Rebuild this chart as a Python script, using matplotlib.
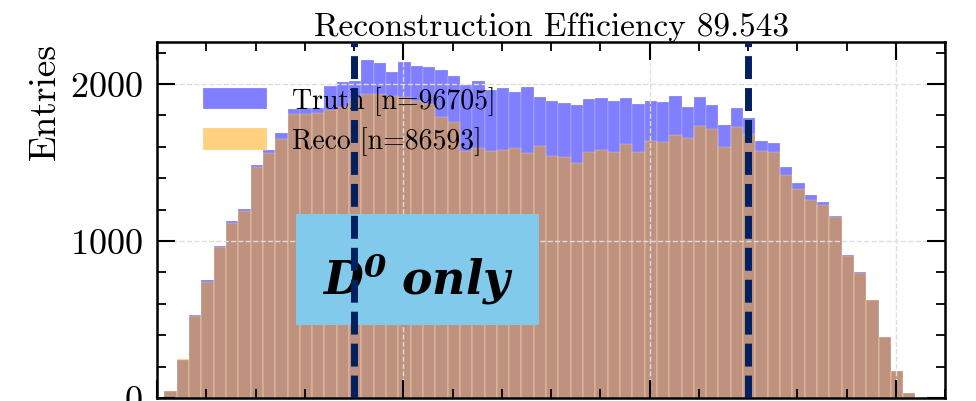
import numpy as np
import matplotlib
matplotlib.use("Agg")
import matplotlib.pyplot as plt
from matplotlib.patches import Rectangle
from matplotlib.ticker import MultipleLocator

# Histogram binning (61 bins of width 0.025)
bin_lo = 0.015
bin_width = 0.025

truth_counts = [
    44, 245, 528, 750, 971, 1127, 1203, 1484, 1582, 1690,
    1841, 1847, 1850, 1990, 2015, 2022, 2153, 2134, 2078, 2142,
    2116, 2110, 2089, 2049, 1993, 2022, 1961, 1975, 1947, 1979,
    1915, 1894, 1882, 1866, 1904, 1909, 1892, 1909, 1873, 1892,
    1883, 1925, 1852, 1915, 1868, 1741, 1848, 1782, 1635, 1622,
    1469, 1369, 1293, 1246, 1157, 911, 800, 626, 386, 170,
    30,
]
reco_counts = [
    44, 250, 521, 742, 963, 1117, 1191, 1471, 1558, 1651,
    1809, 1812, 1817, 1832, 1852, 1902, 1936, 1936, 1922, 1915,
    1892, 1873, 1791, 1756, 1575, 1590, 1571, 1582, 1590, 1559,
    1607, 1540, 1535, 1500, 1565, 1577, 1569, 1615, 1565, 1637,
    1630, 1676, 1657, 1736, 1716, 1598, 1725, 1682, 1573, 1570,
    1420, 1333, 1263, 1232, 1151, 907, 796, 622, 386, 170,
    30,
]
n_truth = 96705
n_reco = 86593
cut_lo, cut_hi = 0.4, 1.2
box_label = r"$\mathbfit{D^0\ only}$"

edges = bin_lo + bin_width * np.arange(len(truth_counts) + 1)
centers = 0.5 * (edges[:-1] + edges[1:])

plt.rcParams.update({
    "font.family": "serif",
    "font.serif": ["cmr10", "DejaVu Serif"],
    "mathtext.fontset": "cm",
    "axes.formatter.use_mathtext": True,
    "axes.unicode_minus": False,
    "axes.linewidth": 1.8,
    "xtick.direction": "in",
    "ytick.direction": "in",
    "xtick.top": True,
    "ytick.right": True,
    "xtick.major.size": 13,
    "ytick.major.size": 13,
    "xtick.minor.size": 6.5,
    "ytick.minor.size": 6.5,
    "xtick.major.width": 1.5,
    "ytick.major.width": 1.5,
    "xtick.minor.width": 1.3,
    "ytick.minor.width": 1.3,
    "xtick.labelsize": 26,
    "ytick.labelsize": 26,
})

fig = plt.figure(figsize=(9.76, 4.02), dpi=100)
ax = fig.add_axes([157 / 976, 3 / 402, 788 / 976, 356 / 402])

ax.hist(centers, bins=edges, weights=truth_counts, color="blue", alpha=0.5,
        edgecolor="white", linewidth=0.3, label=f"Truth [n={n_truth}]")
ax.hist(centers, bins=edges, weights=reco_counts, color="orange", alpha=0.5,
        edgecolor="white", linewidth=0.3, label=f"Reco [n={n_reco}]")

ax.set_xlim(0, 1.6)
ax.set_ylim(0, 2268)
ax.xaxis.set_major_locator(MultipleLocator(0.5))
ax.xaxis.set_minor_locator(MultipleLocator(0.1))
ax.yaxis.set_major_locator(MultipleLocator(1000))
ax.yaxis.set_minor_locator(MultipleLocator(200))
ax.tick_params(axis="y", which="major", pad=10)
ax.tick_params(axis="x", labelbottom=False)
ax.grid(True, which="major", color="0.87", linestyle="--", linewidth=1.0)

ax.set_ylabel("Entries", fontsize=27, loc="top", labelpad=6)
ax.set_title(f"Reconstruction Efficiency {100 * n_reco / n_truth:.3f}",
             fontsize=24, pad=5)

ax.legend(loc="upper left", bbox_to_anchor=(0.058, 0.876), frameon=False,
          fontsize=20, handlelength=2.3, handleheight=0.8, handletextpad=0.9,
          labelspacing=0.42, borderpad=0, borderaxespad=0)

# Selection window
for xc in (cut_lo, cut_hi):
    ax.axvline(xc, color="#002060", linewidth=5, dashes=(3.3, 1.3), zorder=6)

# Annotation box
ax.add_patch(Rectangle((0.1764, 0.2051), 0.3084, 0.3118, transform=ax.transAxes,
                       facecolor="#82CAEB", edgecolor="none", zorder=5))
ax.text(0.1764 + 0.3084 / 2, 0.2051 + 0.3118 / 2 - 0.025, box_label,
        transform=ax.transAxes, ha="center", va="center", fontsize=33,
        math_fontfamily="dejavuserif", zorder=5.5)

fig.savefig("out.png", dpi=100)
